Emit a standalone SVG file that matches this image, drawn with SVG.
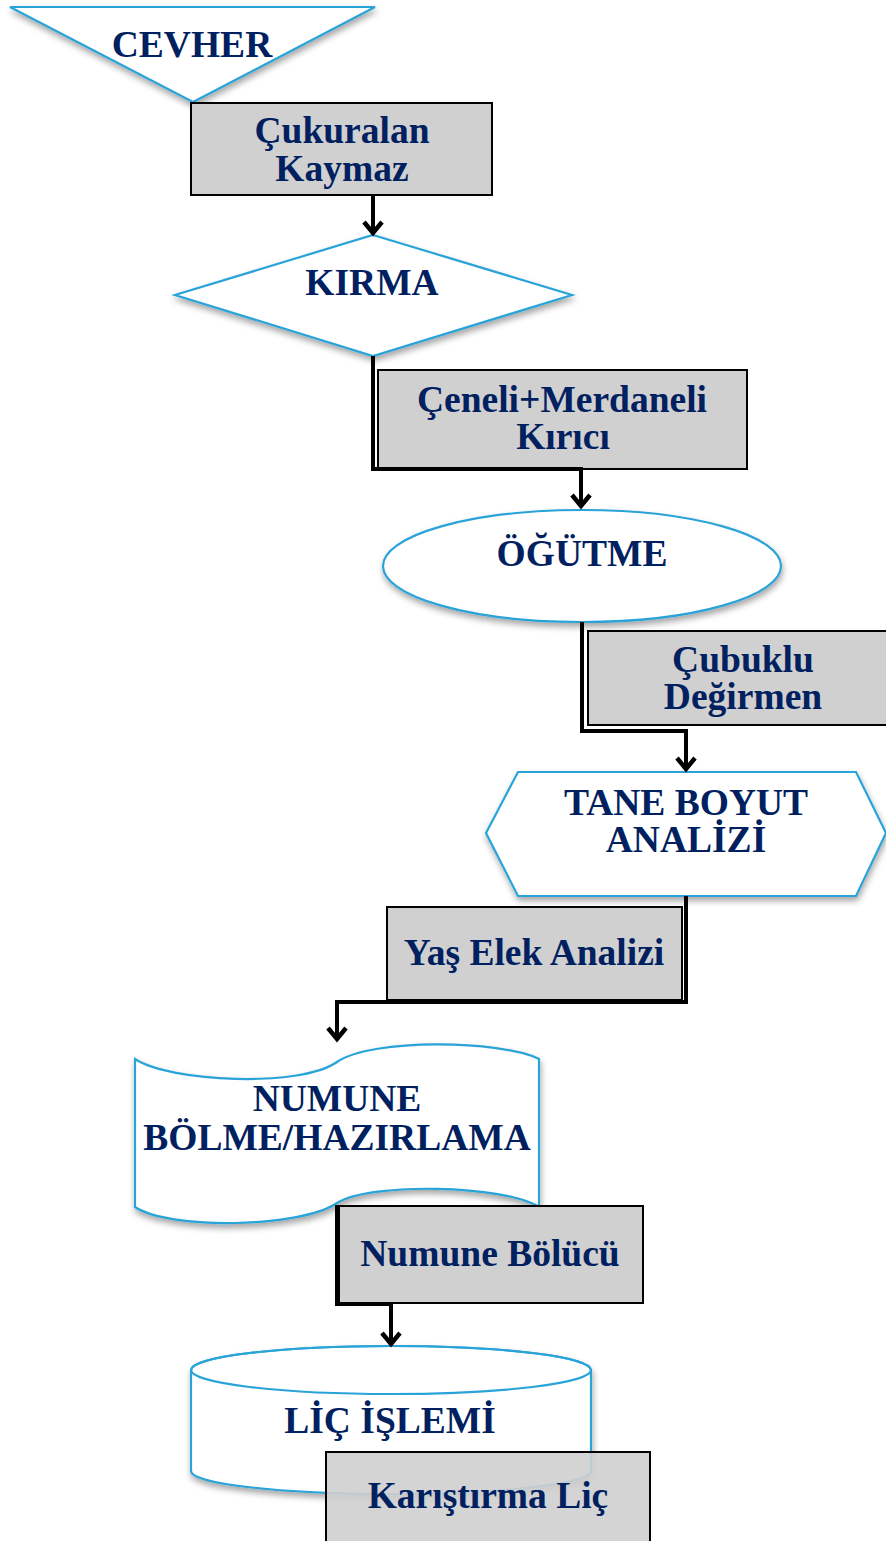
<svg xmlns="http://www.w3.org/2000/svg" width="886" height="1541" viewBox="0 0 886 1541">
<defs>
<style>
.t{font-family:"Liberation Serif","Times New Roman",serif;font-weight:bold;font-size:37.5px;fill:#002060;text-anchor:middle}
.sh{fill:#ffffff;stroke:#29a3d8;stroke-width:2.2;filter:url(#ds)}
.bx{fill:#d0d0d0;stroke:#000;stroke-width:2}
.cn{fill:none;stroke:#000;stroke-width:4;stroke-linejoin:miter}
</style>
<filter id="ds" x="-10%" y="-10%" width="120%" height="130%">
<feDropShadow dx="1" dy="4" stdDeviation="3" flood-color="#000" flood-opacity="0.35"/>
</filter>
<marker id="ah" markerUnits="userSpaceOnUse" markerWidth="24" markerHeight="24" refX="0" refY="0" viewBox="-14 -12 16 24" orient="auto" overflow="visible">
<path d="M-11,-9 L0,0 L-11,9" fill="none" stroke="#000" stroke-width="4.5"/>
</marker>
</defs>
<rect width="886" height="1541" fill="#fff"/>

<g id="n-cevher">
<polygon class="sh" points="10,7 375,7 193,102"/>
<text class="t" x="192" y="57">CEVHER</text>
</g>
<g id="n-cukuralan">
<rect class="bx" x="191" y="103" width="301" height="92"/>
<text class="t" x="342" y="143">Çukuralan</text>
<text class="t" x="342" y="181">Kaymaz</text>
</g>
<g id="n-kirma">
<polygon class="sh" points="373,235 572,295 373,356 175,295"/>
<text class="t" x="372" y="295">KIRMA</text>
</g>
<g id="n-ceneli">
<rect class="bx" x="378" y="370" width="369" height="99"/>
<text class="t" x="562" y="412">Çeneli+Merdaneli</text>
<text class="t" x="563" y="449">Kırıcı</text>
</g>
<g id="n-ogutme">
<ellipse class="sh" cx="582" cy="566" rx="199" ry="56"/>
<text class="t" x="582" y="566">ÖĞÜTME</text>
</g>
<g id="n-cubuklu">
<rect class="bx" x="588" y="631" width="310" height="94"/>
<text class="t" x="743" y="672">Çubuklu</text>
<text class="t" x="743" y="709">Değirmen</text>
</g>
<g id="n-tane">
<polygon class="sh" points="486,833 518,772 856,772 886,833 856,896 518,896"/>
<text class="t" x="686" y="815">TANE BOYUT</text>
<text class="t" x="686" y="852">ANALİZİ</text>
</g>
<g id="n-yas">
<rect class="bx" x="387" y="907" width="295" height="93"/>
<text class="t" x="534" y="965">Yaş Elek Analizi</text>
</g>
<g id="n-numune">
<path class="sh" d="M135,1059 C170,1082 300,1088 337,1062 C372,1038 500,1040 539,1059 L539,1207 C505,1185 370,1182 337,1203 C300,1228 170,1230 135,1207 Z"/>
<text class="t" x="337" y="1111">NUMUNE</text>
<text class="t" x="337" y="1150">BÖLME/HAZIRLAMA</text>
</g>
<g id="n-bolucu">
<rect class="bx" x="339" y="1206" width="304" height="97"/>
<text class="t" x="490" y="1266">Numune Bölücü</text>
</g>
<g id="n-lic">
<path class="sh" d="M191,1370 L191,1471 A200,23 0 0 0 591,1471 L591,1370 A200,24 0 0 0 191,1370 Z"/>
<ellipse cx="391" cy="1370" rx="200" ry="24" fill="none" stroke="#29a3d8" stroke-width="2.2"/>
<text class="t" x="390" y="1433">LİÇ İŞLEMİ</text>
</g>
<g id="n-karistirma">
<rect x="326" y="1452" width="324" height="100" fill="#cfcfcf" fill-opacity="0.9" stroke="#000" stroke-width="2"/>
<text class="t" x="488" y="1508">Karıştırma Liç</text>
</g>

<g id="connectors">
<path class="cn" d="M373,195 L373,233" marker-end="url(#ah)"/>
<path class="cn" d="M373,356 L373,469 L581,469 L581,506" marker-end="url(#ah)"/>
<path class="cn" d="M582,622 L582,731 L686,731 L686,769" marker-end="url(#ah)"/>
<path class="cn" d="M686,896 L686,1002 L337,1002 L337,1039" marker-end="url(#ah)"/>
<path class="cn" d="M337,1205 L337,1304 L391,1304 L391,1344" marker-end="url(#ah)"/>
</g>
</svg>
